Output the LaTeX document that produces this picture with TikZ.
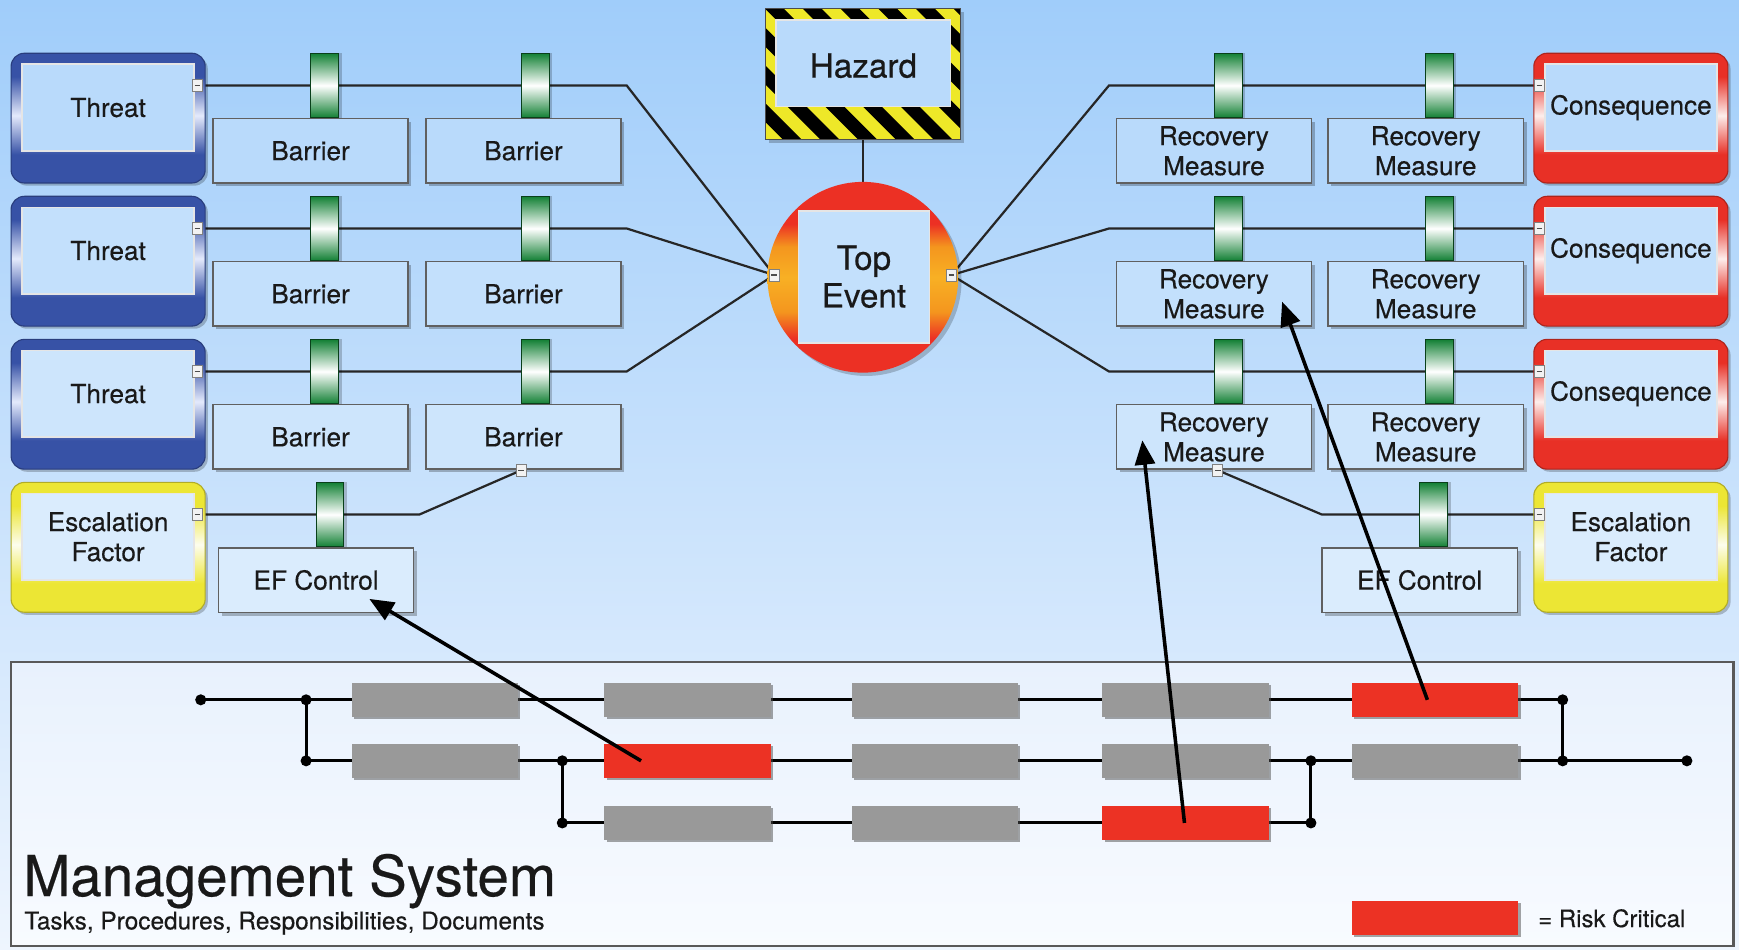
\documentclass[tikz,border=0pt]{standalone}
\usepackage{fontspec}
\setmainfont{TeX Gyre Heros}[FakeBold=0.35]
\usetikzlibrary{arrows.meta,shadows}
\definecolor{bgtop}{RGB}{160,205,250}
\definecolor{bgbot}{RGB}{238,245,254}
\definecolor{tblue}{RGB}{55,82,166}
\definecolor{tbluew}{RGB}{228,234,252}
\definecolor{cred}{RGB}{232,48,38}
\definecolor{credw}{RGB}{253,238,236}
\definecolor{eyel}{RGB}{236,230,52}
\definecolor{eyelw}{RGB}{253,253,238}
\definecolor{tgreen}{RGB}{18,128,52}
\definecolor{rowa}{RGB}{185,218,251}
\definecolor{rowb}{RGB}{195,224,252}
\definecolor{rowc}{RGB}{205,229,252}
\definecolor{rowd}{RGB}{218,236,253}
\definecolor{barg}{RGB}{153,153,153}
\definecolor{crit}{RGB}{236,50,36}
\definecolor{tered}{RGB}{236,48,36}
\definecolor{teorg}{RGB}{244,150,30}
\definecolor{teyel}{RGB}{248,176,36}
\definecolor{hzyel}{RGB}{238,232,40}
\definecolor{panelt}{RGB}{232,241,253}
\definecolor{panelb}{RGB}{248,251,255}
\definecolor{ink}{RGB}{25,25,25}
\pgfdeclareverticalshading{blueshade}{100bp}{color(0bp)=(tblue); color(25bp)=(tblue); color(36bp)=(tblue); color(51bp)=(tbluew); color(66bp)=(tblue); color(100bp)=(tblue)}
\pgfdeclareverticalshading{redshade}{100bp}{color(0bp)=(cred); color(25bp)=(cred); color(36bp)=(cred); color(51bp)=(credw); color(66bp)=(cred); color(100bp)=(cred)}
\pgfdeclareverticalshading{yelshade}{100bp}{color(0bp)=(eyel); color(25bp)=(eyel); color(36bp)=(eyel); color(51bp)=(eyelw); color(66bp)=(eyel); color(100bp)=(eyel)}
\pgfdeclareverticalshading{teshade}{100bp}{color(0bp)=(tered); color(25bp)=(tered); color(34bp)=(tered); color(41bp)=(teorg); color(50bp)=(teyel); color(58bp)=(teorg); color(64bp)=(tered); color(100bp)=(tered)}
\pgfdeclarelayer{bg}
\pgfdeclarelayer{back}
\pgfsetlayers{bg,back,main}
\begin{document}
\begin{tikzpicture}[x=0.5pt,y=-0.5pt,
  wh/.style 2 args={minimum width=#1*0.5pt,minimum height=#2*0.5pt},
  every node/.style={inner sep=0pt,outer sep=0pt,text=ink},
  lbl/.style={font=\fontsize{11.8}{13.5}\selectfont,align=center},
  rbox/.style={wh={175}{117},rounded corners=6pt,draw=#1!75!black,line width=0.5pt,
    drop shadow={shadow xshift=1.2pt,shadow yshift=-1.2pt,fill=black,opacity=0.22}},
  threatbox/.style={rbox=tblue,shade,shading=blueshade},
  conbox/.style={rbox=cred,shade,shading=redshade},
  escbox/.style={rbox=eyel,shade,shading=yelshade},
  inbox/.style={fill=#1,draw=white!80!gray,line width=0.8pt,lbl},
  tab/.style={wh={25}{58},top color=tgreen,bottom color=tgreen,middle color=white,
    draw=tgreen!50!black,line width=0.3pt,
    drop shadow={shadow xshift=1.5pt,shadow yshift=0pt,fill=black,opacity=0.2}},
  bbox/.style={wh={176}{58},fill=#1,draw=gray!75!black,line width=0.6pt,lbl,
    drop shadow={shadow xshift=1.5pt,shadow yshift=-1.5pt,fill=black,opacity=0.25}},
  sq/.style={wh={9}{11},fill=white!90!gray,draw=gray,line width=0.4pt,
    path picture={\draw[gray!60!black,line width=0.5pt] ([xshift=-1.3pt]path picture bounding box.center)--([xshift=1.3pt]path picture bounding box.center);}},
  wire/.style={draw=black!85,line width=1pt},
  mwire/.style={draw=black,line width=1.3pt},
  dot/.style={circle,fill=black,minimum size=5pt},
  bar/.style={wh={150}{31},fill=barg,
    drop shadow={shadow xshift=1pt,shadow yshift=-1pt,fill=black!70,opacity=0.5}},
  cbar/.style={bar,fill=crit},
  big/.style={line width=1.6pt,draw=black,-{Triangle[length=11pt,width=9pt]}}
]
\useasboundingbox (0,0) rectangle (1568,856);
\begin{pgfonlayer}{bg}
\shade[top color=bgtop,bottom color=bgbot] (0,0) rectangle (1568,856);
\path[draw=gray!70!black,line width=1pt,top color=panelt,bottom color=panelb] (10,597) rectangle (1563,853);
\end{pgfonlayer}

% ---------- rows ----------
\foreach \r/\y/\c in {1/77/rowa,2/206/rowb,3/335/rowc}{
  \node[threatbox] (T\r) at (97.5,\y+29.5) {};
  \node[inbox=\c,wh={155}{78}] (Ti\r) at (97.5,\y+20) {Threat};
  \node[sq] (Tc\r) at (178,\y) {};
  \node[tab] (BTa\r) at (292.5,\y) {};
  \node[tab] (BTb\r) at (482.5,\y) {};
  \node[bbox=\c] (Ba\r) at (280,\y+59) {Barrier};
  \node[bbox=\c] (Bb\r) at (472,\y+59) {Barrier};
  \coordinate (LB\r) at (565,\y);
  \node[conbox] (C\r) at (1470.5,\y+29.5) {};
  \node[inbox=\c,wh={155}{78}] (Ci\r) at (1470.5,\y+20) {Consequence};
  \node[sq] (Cc\r) at (1388,\y) {};
  \node[tab] (RTa\r) at (1107.5,\y) {};
  \node[tab] (RTb\r) at (1297.5,\y) {};
  \node[bbox=\c] (Ra\r) at (1094.5,\y+59) {Recovery\\Measure};
  \node[bbox=\c] (Rb\r) at (1285.5,\y+59) {Recovery\\Measure};
  \coordinate (RB\r) at (1000,\y);
}

% ---------- escalation ----------
\node[escbox] (E1) at (97.5,493.5) {};
\node[inbox=rowd,wh={155}{78}] (Ei1) at (97.5,484) {Escalation\\Factor};
\node[sq] (Ec1) at (178,464) {};
\node[tab] (ETa) at (297.5,464) {};
\node[bbox=rowd] (EF1) at (285,523) {EF Control};
\node[sq] (Bs) at (470,424) {};
\coordinate (EL) at (378,464);

\node[escbox] (E2) at (1470.5,493.5) {};
\node[inbox=rowd,wh={155}{78}] (Ei2) at (1470.5,484) {Escalation\\Factor};
\node[sq] (Ec2) at (1388,464) {};
\node[tab] (ETb) at (1292.5,464) {};
\node[bbox=rowd] (EF2) at (1280,523) {EF Control};
\node[sq] (Rs) at (1098,424) {};
\coordinate (ER) at (1192,464);

% ---------- hazard ----------
\fill[black,opacity=0.22] (693,11) rectangle (869,129);
\node[wh={176}{118}] (Hz) at (778,67) {};
\begin{scope}
\clip (Hz.north west) rectangle (Hz.south east);
\fill[hzyel] (Hz.north west) rectangle (Hz.south east);
\foreach \i in {-5,...,8}{
  \fill[black] ({690+(\i)*34},8) -- ++(17,0) -- ++(118,118) -- ++(-17,0) -- cycle;
}
\end{scope}
\draw[black!70,line width=0.4pt] (Hz.north west) rectangle (Hz.south east);
\node[inbox=rowa,wh={157}{78},font=\fontsize{15}{17}\selectfont,text depth=0pt] (Hzi) at (778.5,57) {\raisebox{-2pt}{Hazard}};

% ---------- top event ----------
\node[circle,wh={172}{172},shade,shading=teshade,
  drop shadow={shadow xshift=1.5pt,shadow yshift=-1.5pt,fill=black,opacity=0.2}] (TE) at (778,250) {};
\node[inbox=rowb,wh={118}{119},font=\fontsize{15}{17}\selectfont] (TEi) at (779,249.5) {Top\\Event};
\node[sq] (TEl) at (698,248) {};
\node[sq] (TEr) at (858,248) {};

% ---------- bowtie wires ----------
\begin{pgfonlayer}{back}
\foreach \r in {1,2,3}{
  \draw[wire] (Tc\r) -- (LB\r) -- (TEl);
  \draw[wire] (TEr) -- (RB\r) -- (Cc\r);
}
\draw[wire] (Ec1) -- (EL) -- (Bs);
\draw[wire] (Rs) -- (ER) -- (Ec2);
\draw[wire] (Hz) -- (TE);
\end{pgfonlayer}

% ---------- management system ----------
\foreach \n/\x in {1/392,2/620,3/843,4/1069}{
  \node[bar] (A\n) at (\x,631) {};
}
\node[cbar] (A5) at (1294,631) {};
\node[bar] (B1) at (392,686) {};
\node[cbar] (B2) at (620,686) {};
\node[bar] (B3) at (843,686) {};
\node[bar] (B4) at (1069,686) {};
\node[bar] (B5) at (1294,686) {};
\node[bar] (C2) at (620,742) {};
\node[bar] (C3) at (843,742) {};
\node[cbar] (C4) at (1069,742) {};

\node[dot] (dA0) at (181,631) {};
\node[dot] (dA1) at (276,631) {};
\node[dot] (dB1) at (276,686) {};
\node[dot] (dB2) at (507,686) {};
\node[dot] (dC2) at (507,742) {};
\node[dot] (dB4) at (1182,686) {};
\node[dot] (dC4) at (1182,742) {};
\node[dot] (dA5) at (1409,631) {};
\node[dot] (dB5) at (1409,686) {};
\node[dot] (dB6) at (1521,686) {};

\begin{pgfonlayer}{back}
\draw[mwire] (dA0.center) -- (dA5.center);
\draw[mwire] (dB1.center) -- (dB6.center);
\draw[mwire] (dC2.center) -- (dC4.center);
\draw[mwire] (dA1.center) -- (dB1.center);
\draw[mwire] (dB2.center) -- (dC2.center);
\draw[mwire] (dB4.center) -- (dC4.center);
\draw[mwire] (dA5.center) -- (dB5.center);
\end{pgfonlayer}

\node[cbar] (Lg) at (1294,827.5) {};
\node[anchor=west,font=\fontsize{10.8}{12}\selectfont] (LgT) at (1387,828) {= Risk Critical};
\node[anchor=base west,font=\fontsize{25.5}{28}\selectfont] (MS) at (21,808) {Management System};
\node[anchor=base west,font=\fontsize{11}{12}\selectfont] (MSs) at (22,838) {Tasks, Procedures, Responsibilities, Documents};

% ---------- arrows ----------
\coordinate (a1s) at (578,686);
\coordinate (a1e) at (333,540);
\coordinate (a2s) at (1068,742);
\coordinate (a2e) at (1030,397);
\coordinate (a3s) at (1287,631);
\coordinate (a3e) at (1156,272);
\draw[big] (a1s) -- (a1e);
\draw[big] (a2s) -- (a2e);
\draw[big] (a3s) -- (a3e);
\end{tikzpicture}
\end{document}
